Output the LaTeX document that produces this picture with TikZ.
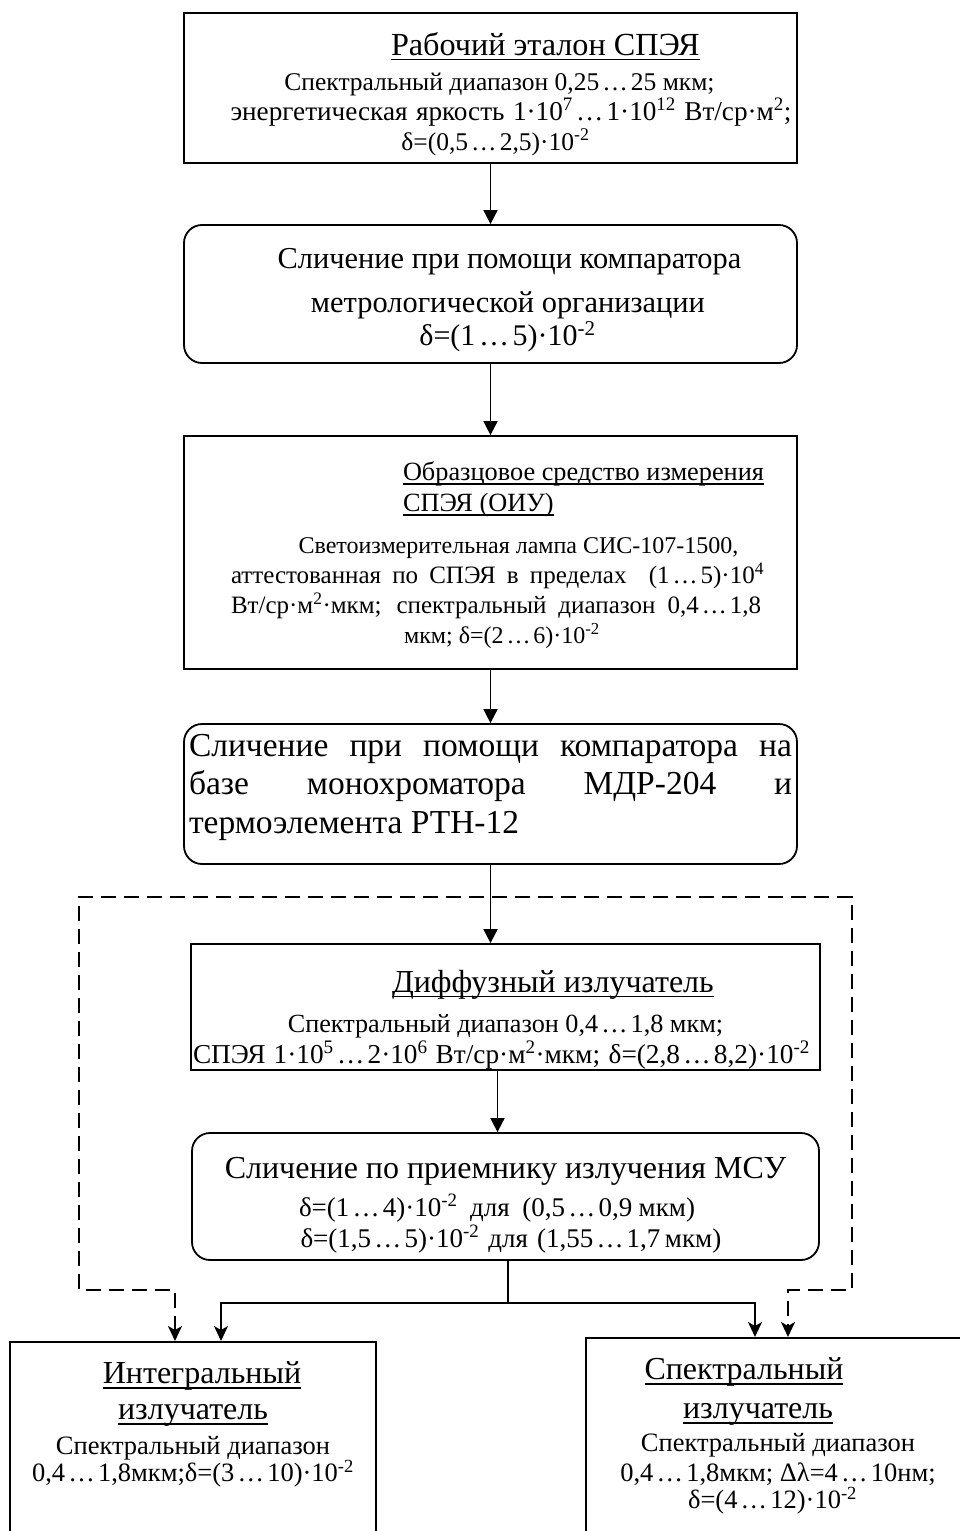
\documentclass[tikz,border=0pt]{standalone}
\usepackage{fontspec}
\setmainfont{Liberation Serif}
\usetikzlibrary{arrows.meta}
\hyphenpenalty=10000
\newsavebox{\ulbox}
\newcommand{\uln}[1]{\leavevmode\sbox{\ulbox}{#1}\rlap{\rule[-0.16em]{\wd\ulbox}{1.6pt}}\usebox{\ulbox}}
\newcommand{\pw}[1]{\textsuperscript{#1}}
\newcommand{\el}{\kern0.12em…\kern0.12em}
\newcommand{\fs}[2]{\fontsize{#1}{#2}\selectfont\spaceskip=0pt\xspaceskip=0pt\relax}
% one line of a box: title at a left offset, centred line, spread line
\newcommand{\ttl}[2]{\leavevmode\unskip\makebox[\hsize][l]{\hspace*{#1}\uln{#2}}\par}
\newcommand{\cl}[2][0pt]{\leavevmode\unskip\makebox[\hsize]{\hspace*{#1}#2}\par}
\newcommand{\wline}[3][0pt]{\leavevmode\unskip\makebox[\hsize]{\hspace*{#1}\makebox[#2][s]{#3}}\par}
\tikzset{
  sharpbox/.style={draw, line width=1.8pt, inner xsep=5pt, inner ysep=0pt, align=center},
  roundbox/.style={sharpbox, rounded corners=18pt},
  arr/.style={line width=1.8pt, -{Triangle[width=14pt,length=14pt]}},
  arrb/.style={line width=1.8pt, -{Stealth[width=14pt,length=15pt,inset=4pt]}},
  frame/.style={line width=2.2pt, dash pattern=on 15pt off 8pt},
}

\begin{document}
\begin{tikzpicture}[x=1pt,y=-1pt]
\path[use as bounding box, clip] (0,0) rectangle (960,1531);
\path
(490.5,88) node [sharpbox, minimum width=613pt, text width=603pt, minimum height=150pt,
    text height=42pt, text depth=108pt] (etalon)
  {{\fs{32.2}{35}\ttl{202pt}{Рабочий эталон СПЭЯ}}
   {\fs{25.5}{30}\vspace{5pt}
    \cl[18pt]{Спектральный диапазон 0,25\el25 мкм;}
    {\fs{27.2}{30}\wline[41pt]{561pt}{энергетическая яркость 1·10\pw{7}\el1·10\pw{12} Вт/ср·м\pw{2};}}
    \cl[10pt]{δ=(0,5\el2,5)·10\pw{-2}}}}
(490.5,294) node [roundbox, minimum width=613pt, text width=603pt, minimum height=138pt,
    text height=43pt, text depth=95pt] (slich1)
  {{\fs{30.4}{44}
    \cl[38pt]{Сличение при помощи компаратора}
    \cl[35pt]{метрологической организации}}
   {\fs{30}{33}\cl[34pt]{δ=(1\el5)·10\pw{-2}}}}
(490.5,552.5) node [sharpbox, minimum width=613pt, text width=603pt, minimum height=233pt,
    text height=44.5pt, text depth=188.5pt] (obrazec)
  {{\fs{26.3}{31}
    \ttl{214pt}{Образцовое средство измерения}
    \ttl{214pt}{СПЭЯ (ОИУ)}}
   {\fs{24}{30}\vspace{12pt}
    \cl[56pt]{Светоизмерительная лампа СИС-107-1500,}
    {\fs{25}{30}\wline[14pt]{533pt}{аттестованная по СПЭЯ в пределах\ \ (1\el5)·10\pw{4}}
     \wline[11pt]{530pt}{Вт/ср·м\pw{2}·мкм; спектральный диапазон 0,4\el1,8}}
    \cl[23pt]{мкм; δ=(2\el6)·10\pw{-2}}}}
(490.5,794) node [roundbox, minimum width=613pt, text width=603pt, minimum height=140pt, align=justify,
    text height=32pt, text depth=108pt] (slich2)
  {{\tolerance=10000 \fs{33.5}{38.5}\leavevmode\unskip
    Сличение при помощи компаратора на\linebreak
    базе монохроматора МДР-204 и\linebreak
    термоэлемента РТН-12\par}}
(505.5,1007) node [sharpbox, minimum width=629pt, text width=619pt, minimum height=126pt,
    text height=48pt, text depth=78pt] (diffuz)
  {{\fs{32}{35}\ttl{196pt}{Диффузный излучатель}}
   {\fs{26.2}{31}\vspace{9pt}
    \cl{Спектральный диапазон 0,4\el1,8 мкм;}
    {\fs{27.3}{31}\wline[-8pt]{617pt}{СПЭЯ 1·10\pw{5}\el2·10\pw{6} Вт/ср·м\pw{2}·мкм; δ=(2,8\el8,2)·10\pw{-2}}}}}
(505.5,1196.5) node [roundbox, minimum width=627pt, text width=617pt, minimum height=127pt,
    text height=45pt, text depth=82pt] (slich3)
  {{\fs{32}{38}\cl{Сличение по приемнику излучения МСУ}}
   {\fs{27}{31}\vspace{7pt}
    \wline[-17pt]{396pt}{δ=(1\el4)·10\pw{-2}\ \ для\ \ (0,5\el0,9 мкм)}
    \wline{410pt}{δ=(1,5\el5)·10\pw{-2}\ \ для\ \ (1,55\el1,7 мкм)}}}
(193,1341) node [sharpbox, anchor=north, minimum width=366pt, text width=356pt, text height=41.5pt, text depth=200pt] (integr)
  {{\fs{32}{36}
    \cl[18pt]{\uln{Интегральный}}
    \cl{\uln{излучатель}}}
   {\fs{26.5}{35}\cl{Спектральный диапазон}}
   {\fs{26.5}{27}\cl{0,4\el1,8мкм;δ=(3\el10)·10\pw{-2}}}}
(778,1337) node [sharpbox, anchor=north, minimum width=384pt, text width=374pt, text height=41.5pt, text depth=200pt] (spektr)
  {{\fs{32}{39}
    \cl[-68pt]{\uln{Спектральный}}
    \cl[-40pt]{\uln{излучатель}}}
   {\fs{26.5}{33}\cl{Спектральный диапазон}}
   {\fs{26.5}{30}\cl{0,4\el1,8мкм; Δλ=4\el10нм;}}
   {\fs{26.5}{27}\cl[-11pt]{δ=(4\el12)·10\pw{-2}}}};
% main chain
\draw [arr] (etalon) -- (slich1);
\draw [arr] (slich1) -- (obrazec);
\draw [arr] (obrazec) -- (slich2);
\draw [arr] (slich2.south) -- (slich2.south |- diffuz.north);
\draw [arr] ([xshift=-8pt]diffuz.south) -- ([xshift=-8pt]slich3.north);
% split to the two sources
\coordinate (split) at (508,1303);
\draw [line width=1.8pt] (slich3.south -| split) -- (split);
\draw [arrb] (split) -| ([xshift=28pt]integr.north);
\draw [arrb] (split) -| ([xshift=-23pt]spektr.north);
% dashed frame
\coordinate (ftl) at (79,897);
\coordinate (ftr) at (852,897);
\coordinate (fbl) at (79,1290);
\coordinate (fbr) at (852,1290);
\draw [frame, {Stealth[width=14pt,length=15pt,inset=4pt]}-{Stealth[width=14pt,length=15pt,inset=4pt]}]
  ([xshift=-18pt]integr.north) |- (fbl) -- (ftl) -- (ftr) -- (fbr) -| ([xshift=10pt]spektr.north);
\end{tikzpicture}
\end{document}
